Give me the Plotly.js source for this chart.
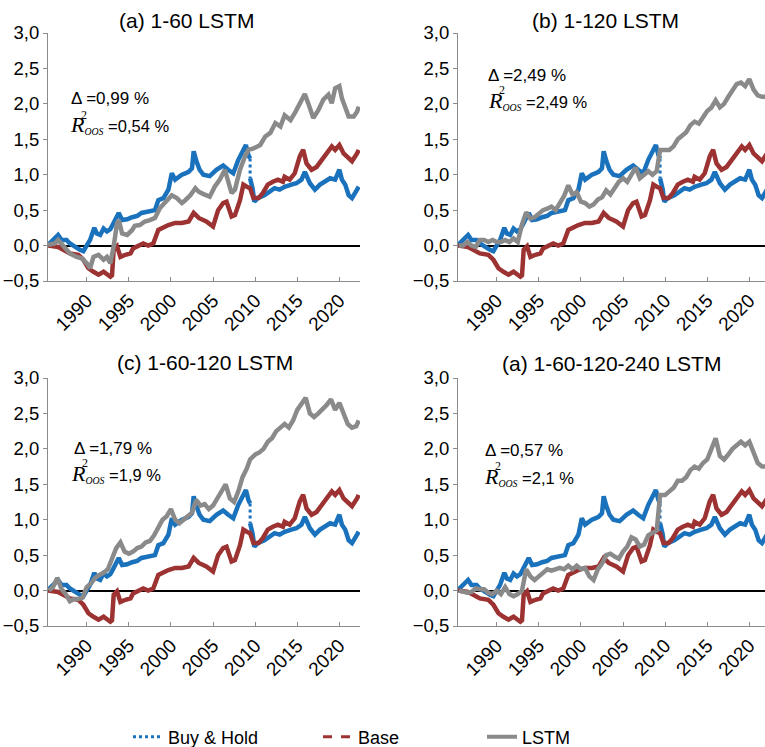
<!DOCTYPE html>
<html><head><meta charset="utf-8">
<script src="https://cdn.plot.ly/plotly-3.0.1.min.js"></script>
<style>html,body{margin:0;padding:0;background:#fff}#chart{width:765px;height:747px}</style>
</head><body><div id="chart"></div>
<script>
// ---------- data ----------
const bhYearsPre = [1985.4,1985.9,1986.6,1987.0,1987.6,1988.0,1988.6,1989.2,1989.6,1990.0,1990.4,1990.9,1991.2,1991.6,1992.0,1992.4,1992.8,1993.2,1993.6,1993.8,1994.2,1994.8,1995.4,1996.0,1996.5,1997.1,1997.7,1998.1,1998.5,1999.1,1999.7,2000.1,2000.5,2000.9,2001.3,2001.7,2002.1,2002.5,2002.7,2003.0,2003.4,2003.85,2004.6,2005.4,2006.2,2006.8,2007.4,2008.0,2008.6,2008.9,2009.2,2009.4];
const buyHoldPre = [0.01,0.06,0.15,0.08,0.08,0.03,-0.02,-0.06,-0.08,-0.01,0.08,0.25,0.17,0.15,0.24,0.2,0.23,0.32,0.43,0.46,0.36,0.37,0.4,0.42,0.46,0.47,0.48,0.5,0.64,0.67,0.79,1.02,0.93,0.97,1.0,1.02,1.04,1.09,1.33,1.2,1.07,1.0,0.98,1.07,1.13,1.07,1.02,1.21,1.35,1.42,1.28,1.23];
const bhYearsPost = [2009.4,2009.7,2009.9,2010.3,2011.1,2011.7,2012.3,2012.9,2013.5,2014.3,2014.9,2015.5,2015.9,2016.5,2017.1,2017.7,2018.3,2018.9,2019.5,2020.0,2020.3,2020.7,2021.1,2021.5,2022.1,2022.3];
const buyHoldPost = [0.95,0.8,0.62,0.67,0.71,0.76,0.81,0.79,0.83,0.86,0.88,0.93,1.04,0.88,0.79,0.86,0.9,0.95,0.93,1.07,0.93,0.86,0.71,0.67,0.79,0.83];

const baseYears = [1985.4,1986.6,1988.0,1989.0,1989.6,1990.2,1990.8,1991.4,1992.0,1992.4,1992.8,1993.0,1993.2,1993.6,1994.0,1994.6,1995.2,1995.5,1996.1,1996.7,1997.3,1997.9,1998.5,1999.1,1999.7,2000.5,2001.3,2002.1,2002.7,2003.3,2004.2,2005.0,2005.6,2006.2,2006.6,2007.2,2007.6,2008.2,2008.6,2009.0,2009.4,2009.8,2010.4,2010.9,2011.5,2012.1,2012.7,2013.3,2013.5,2014.1,2014.7,2015.3,2015.7,2016.1,2016.7,2017.3,2017.9,2018.5,2019.1,2019.5,2020.0,2020.5,2021.1,2021.5,2022.1,2022.3];
const base = [0.0,-0.02,-0.11,-0.13,-0.2,-0.32,-0.37,-0.41,-0.37,-0.41,-0.44,-0.42,-0.06,-0.01,-0.16,-0.13,-0.11,-0.04,-0.01,0.03,0.0,0.03,0.22,0.26,0.29,0.32,0.32,0.34,0.46,0.39,0.34,0.27,0.5,0.6,0.62,0.41,0.43,0.64,0.86,0.83,0.81,0.67,0.67,0.74,0.86,0.9,0.93,0.9,0.97,0.93,1.02,1.26,1.35,1.16,1.07,1.11,1.21,1.3,1.4,1.35,1.42,1.3,1.23,1.19,1.3,1.35];

const lstmYearsA = [1985.4,1986.2,1986.6,1987.2,1988.0,1988.8,1989.4,1990.0,1990.4,1990.8,1991.4,1992.0,1992.4,1992.8,1993.2,1993.6,1993.8,1994.2,1994.8,1995.4,1995.7,1996.3,1996.9,1997.5,1998.1,1998.7,1999.3,2000.1,2000.7,2001.3,2001.7,2002.3,2002.9,2003.3,2003.8,2004.6,2005.2,2005.8,2006.4,2006.8,2007.2,2007.6,2008.2,2008.8,2009.2,2009.8,2010.6,2011.2,2011.8,2012.4,2013.0,2013.5,2014.2,2014.8,2015.4,2015.9,2016.3,2016.9,2017.5,2018.1,2018.7,2019.1,2019.5,2020.0,2020.3,2020.7,2021.1,2021.7,2022.1,2022.3];
const lstmA = [0.01,0.03,0.08,-0.01,-0.11,-0.16,-0.18,-0.25,-0.32,-0.16,-0.13,-0.2,-0.16,-0.25,-0.01,0.32,0.36,0.17,0.15,0.22,0.28,0.29,0.34,0.36,0.39,0.53,0.6,0.71,0.67,0.6,0.64,0.71,0.81,0.76,0.73,0.69,0.83,0.93,1.07,0.88,0.74,0.79,1.07,1.26,1.35,1.37,1.42,1.54,1.59,1.73,1.68,1.84,1.77,1.89,2.01,2.14,2.01,1.8,1.91,2.06,2.13,2.01,2.22,2.25,2.08,1.96,1.82,1.82,1.89,1.96];

const lstmYears = [1985.5,1986,1986.5,1987,1987.5,1988,1988.5,1989,1989.5,1990,1990.5,1991,1991.5,1992,1992.5,1993,1993.5,1994,1994.5,1995,1995.5,1996,1996.5,1997,1997.5,1998,1998.5,1999,1999.5,2000,2000.5,2001,2001.5,2002,2002.5,2003,2003.5,2004,2004.5,2005,2005.5,2006,2006.5,2007,2007.5,2008,2008.5,2009,2009.4,2010,2010.5,2011,2011.5,2012,2012.5,2013,2013.5,2014,2014.5,2015,2015.5,2016,2016.5,2017,2017.5,2018,2018.5,2019,2019.5,2020,2020.5,2021,2021.5,2022,2022.3];
const lstmB = [0.0,0.0,0.05,0.0,-0.02,0.08,0.08,0.05,0.08,0.05,0.05,0.08,0.05,0.1,0.05,0.3,0.47,0.38,0.4,0.45,0.5,0.52,0.55,0.5,0.6,0.7,0.85,0.72,0.75,0.62,0.6,0.55,0.58,0.65,0.68,0.78,0.72,0.8,0.9,0.95,0.9,1.0,1.1,0.95,1.0,1.05,1.0,1.05,1.35,1.35,1.35,1.4,1.5,1.55,1.6,1.7,1.75,1.72,1.8,1.9,1.95,2.05,1.95,2.0,2.1,2.2,2.28,2.3,2.25,2.35,2.2,2.12,2.1,2.1,2.15];
const lstmC = [0.0,0.05,0.18,0.02,-0.05,-0.15,-0.12,-0.12,-0.1,0.05,0.1,0.18,0.22,0.25,0.3,0.45,0.6,0.68,0.55,0.52,0.55,0.6,0.62,0.68,0.7,0.78,0.9,1.0,1.05,1.15,1.0,0.95,1.0,1.05,1.1,1.28,1.2,1.22,1.15,1.2,1.3,1.42,1.5,1.3,1.25,1.4,1.6,1.72,1.85,1.92,1.95,2.0,2.1,2.15,2.25,2.3,2.35,2.3,2.4,2.55,2.65,2.72,2.5,2.45,2.5,2.55,2.62,2.7,2.55,2.65,2.5,2.35,2.3,2.32,2.4];
const lstmD = [0.0,-0.02,-0.03,-0.02,0.03,0.02,0.02,-0.03,-0.05,0.0,-0.05,0.05,-0.05,-0.08,-0.05,0.0,0.3,0.2,0.15,0.2,0.25,0.3,0.28,0.3,0.32,0.3,0.35,0.3,0.35,0.3,0.32,0.2,0.15,0.3,0.38,0.5,0.52,0.48,0.45,0.55,0.62,0.75,0.72,0.62,0.65,0.78,0.82,0.85,1.35,1.35,1.4,1.45,1.55,1.55,1.6,1.7,1.75,1.72,1.8,1.85,2.0,2.15,1.9,1.85,1.92,2.0,2.05,2.1,2.05,2.1,1.95,1.8,1.75,1.75,1.78];

const panelTitles = ['(a) 1-60 LSTM','(b) 1-120 LSTM','(c) 1-60-120 LSTM','(a) 1-60-120-240 LSTM'];
const deltaValues = ['0,99','2,49','1,79','0,57'];
const r2Values = ['0,54','2,49','1,9','2,1'];
const yearTicks = [1990,1995,2000,2005,2010,2015,2020];
const yearTickText = ['1990','1995','2000','2005','2010','2015','2020'];
const seriesNames = ['Buy & Hold','Base','LSTM'];

// ---------- layout ----------
const W = 765, H = 747;
const px = x => x / W;
const py = y => 1 - y / H;
const BLUE = '#1a72bd', RED = '#9c3232', GRAY = '#8a8a8a';
const FONT = 'Liberation Sans, Arial, sans-serif';

const lstmSets = [[lstmYearsA, lstmA], [lstmYears, lstmB], [lstmYears, lstmC], [lstmYears, lstmD]];
const panels = [
  {xd:[48,360], yd:[33,281], xr:[1985.4,2022.45], title:[186.5,20], delta:[69,99], r2:[68,125]},
  {xd:[458,765], yd:[33,281], xr:[1985.4,2021.86], title:[605,20], delta:[486,75], r2:[486,100]},
  {xd:[48,360], yd:[378,626], xr:[1985.4,2022.45], title:[205,362], delta:[72,448], r2:[69,473]},
  {xd:[458,765], yd:[378,626], xr:[1985.4,2021.86], title:[611,363], delta:[483,451], r2:[482,476]}
];

const traces = [];
const layout = {
  width: W, height: H,
  margin: {l:0, r:0, t:0, b:0, autoexpand: false},
  paper_bgcolor: '#fff', plot_bgcolor: '#fff',
  font: {family: FONT, color: '#000'},
  separators: ', ',
  showlegend: true,
  annotations: []
};

panels.forEach((p, i) => {
  const s = i === 0 ? '' : String(i + 1);
  const xa = 'x' + s, ya = 'y' + s;
  layout['xaxis' + s] = {
    domain: [px(p.xd[0]), px(p.xd[1])], anchor: ya, range: p.xr,
    tickvals: yearTicks, ticktext: yearTickText, tickangle: -45,
    showline: true, linecolor: '#8c8c8c', linewidth: 1,
    ticks: 'inside', ticklen: 4, tickcolor: '#8c8c8c',
    showgrid: false, zeroline: false, tickfont: {size: 19, family: FONT, color:'#000'}
  };
  layout['yaxis' + s] = {
    domain: [py(p.yd[1]), py(p.yd[0])], anchor: xa, range: [-0.5, 3.0],
    dtick: 0.5, tick0: 0, tickformat: '.1f',
    showline: true, linecolor: '#8c8c8c', linewidth: 1,
    ticks: 'outside', ticklen: 4, tickcolor: '#8c8c8c',
    showgrid: false, zeroline: true, zerolinecolor: '#000', zerolinewidth: 2,
    tickfont: {size: 18.5, family: FONT, color:'#000'}
  };
  const common = {xaxis: xa, yaxis: ya, mode: 'lines', showlegend: false, hoverinfo: 'skip'};
  traces.push(Object.assign({}, common, {x: bhYearsPre, y: buyHoldPre, line: {color: BLUE, width: 4.5}}));
  traces.push(Object.assign({}, common, {
    x: [bhYearsPre[bhYearsPre.length-1], bhYearsPost[0]],
    y: [buyHoldPre[buyHoldPre.length-1], buyHoldPost[0]],
    line: {color: BLUE, width: 3, dash: 'dot'}}));
  traces.push(Object.assign({}, common, {x: bhYearsPost, y: buyHoldPost, line: {color: BLUE, width: 4.5}}));
  traces.push(Object.assign({}, common, {x: baseYears, y: base, line: {color: RED, width: 4.5}}));
  traces.push(Object.assign({}, common, {x: lstmSets[i][0], y: lstmSets[i][1], line: {color: GRAY, width: 4.5}}));

  layout.annotations.push({
    xref:'paper', yref:'paper', x: px(p.title[0]), y: py(p.title[1]),
    xanchor:'center', yanchor:'middle', showarrow:false,
    text: panelTitles[i], font:{size: 21, family: FONT, color:'#000'}
  });
  layout.annotations.push({
    xref:'paper', yref:'paper', x: px(p.delta[0]), y: py(p.delta[1]),
    xanchor:'left', yanchor:'middle', showarrow:false,
    text: 'Δ =' + deltaValues[i] + ' %', font:{size: 17, family: FONT, color:'#000'}
  });
  layout.annotations.push({
    xref:'paper', yref:'paper', x: px(p.r2[0]), y: py(p.r2[1]),
    xanchor:'left', yanchor:'middle', showarrow:false,
    text: '<span style="font-family:Liberation Serif;font-style:italic;font-size:22px">R</span>' +
          '<span style="font-family:Liberation Serif;font-style:italic;font-size:14px"><sub>OOS</sub></span>' +
          ' =' + r2Values[i] + ' %',
    font:{size: 16.5, family: FONT, color:'#000'}
  });
  layout.annotations.push({
    xref:'paper', yref:'paper', x: px(p.r2[0] + 16), y: py(p.r2[1] - 10),
    xanchor:'center', yanchor:'middle', showarrow:false,
    text: '2', font:{size: 12, family: 'Liberation Serif, serif', color:'#000'}
  });
});

// legend-only traces
const legendStyles = [
  {color: BLUE, width: 3, dash: 'dot'},
  {color: RED, width: 3, dash: 'dash'},
  {color: GRAY, width: 4, dash: 'solid'}
];
const legendIds = ['legend', 'legend2', 'legend3'];
const legendX = [128, 318, 482];
seriesNames.forEach((n, k) => {
  traces.push({x:[null], y:[null], xaxis:'x', yaxis:'y', mode:'lines', name: n,
    line: legendStyles[k], showlegend: true, legend: legendIds[k], hoverinfo:'skip'});
  layout[legendIds[k]] = {
    x: px(legendX[k]), y: py(737), xanchor:'left', yanchor:'middle',
    orientation:'h', bgcolor:'rgba(0,0,0,0)', borderwidth:0,
    font:{size:18, family: FONT, color:'#000'}
  };
});

Plotly.newPlot('chart', traces, layout, {staticPlot: true, displayModeBar: false});
</script></body></html>
